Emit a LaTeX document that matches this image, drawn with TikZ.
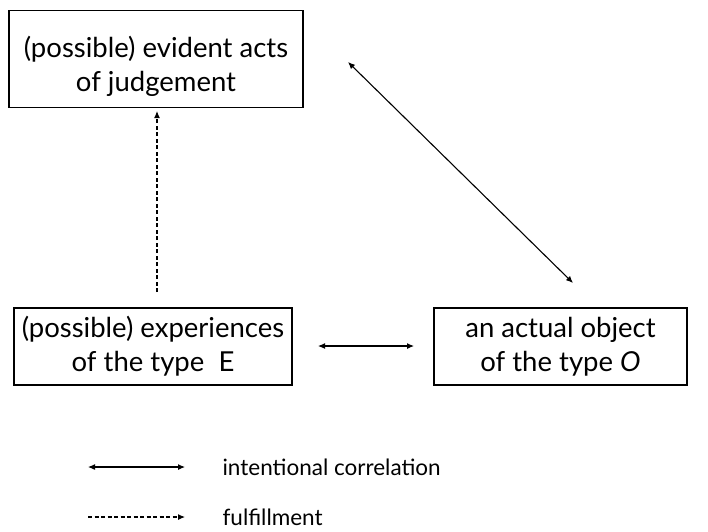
\documentclass[tikz,border=0pt]{standalone}
\usepackage{fontspec}
\setmainfont{Lato}
\usepackage{tikz}
\usetikzlibrary{graphs}
\usetikzlibrary{arrows.meta}

\begin{document}
\begin{tikzpicture}[x=1pt, y=-1pt, line width=1.1pt,
        >={Latex[length=7pt, width=6pt]},
        dashed/.style={dash pattern=on 4pt off 2.5pt},
        box/.style={draw, rectangle, align=center, inner sep=0pt,
                    font=\fontsize{27.5}{34}\selectfont},
        legend/.style={anchor=west, inner sep=0pt,
                    font=\fontsize{22.5}{24}\selectfont}]
        \useasboundingbox (0, 0) rectangle (708, 531);

        \node[box, minimum width=294pt, minimum height=97pt] (acts) at (156, 59)
            {\rule{0pt}{36pt}(possible) evident acts\\of judgement};
        \node[box, minimum width=278pt, minimum height=77pt] (exp) at (153, 346.5)
            {(possible) experiences\\of the type\ \ E};
        \node[box, minimum width=253pt, minimum height=77pt] (obj) at (560.5, 346.5)
            {an actual object\\of the type \textit{O}};

        \coordinate (f1) at (157, 292);
        \coordinate (f2) at (157, 111);
        \coordinate (d1) at (348, 62);
        \coordinate (d2) at (573, 283);
        \coordinate (h1) at (318, 346);
        \coordinate (h2) at (414, 346);

        \graph {(f1) ->[dashed] (f2)};
        \graph {(d1) <->        (d2)};
        \graph {(h1) <->        (h2)};

        % legend
        \coordinate (la) at (88, 467);
        \coordinate (lb) at (185, 467);
        \coordinate (lc) at (88, 517);
        \coordinate (ld) at (185, 517);
        \node[legend] (lint) at (222, 467) {intentional correlation};
        \node[legend] (lful) at (222, 517) {fulfillment};

        \graph {(la) <->        (lb)};
        \graph {(lc) ->[dashed] (ld)};
    \end{tikzpicture}
\end{document}
